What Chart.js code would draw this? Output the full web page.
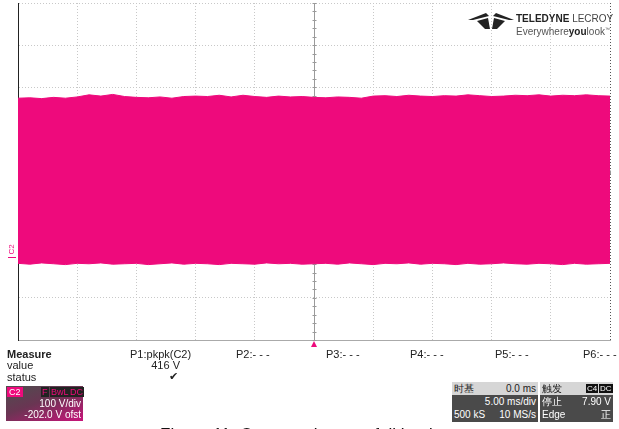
<!DOCTYPE html>
<html>
<head>
<meta charset="utf-8">
<script src="https://cdn.jsdelivr.net/npm/chart.js@4"></script>
<style>
  body { margin: 0; background: #fff; font-family: "Liberation Sans", Arial, sans-serif; }
  #wrap { position: relative; width: 619px; height: 429px; overflow: hidden; }
  .t { position: absolute; font-size: 11px; line-height: 11px; color: #222; white-space: nowrap; }
  .box { position: absolute; font-size: 10px; line-height: 13px; color: #fff; }
  .row { position: relative; height: 13px; }
  .row span { position: absolute; }
</style>
</head>
<body>
<div id="wrap">
  <canvas id="scopeChart" width="619" height="429"></canvas>

  <!-- logo -->
  <svg style="position:absolute;left:467px;top:12px" width="48" height="18">
    <polygon points="1,8 19,1 22,4 6,8" fill="#222"/>
    <polygon points="47,8 29,1 26,4 42,8" fill="#222"/>
    <polygon points="10,9 21,6 23,17 18,17" fill="#222"/>
    <polygon points="38,9 27,6 25,17 30,17" fill="#222"/>
  </svg>
  <div class="t" style="left:516px;top:14px;font-size:10px;line-height:10px;color:#222"><b>TELEDYNE</b> <span style="color:#444">LECROY</span></div>
  <div class="t" style="left:516px;top:24px;font-size:10px;line-height:10px;color:#555">Everywhere<b style="color:#222">you</b>look<sup style="font-size:5px">™</sup></div>

  <!-- measure table -->
  <div class="t" style="left:7px;top:349px"><b>Measure</b></div>
  <div class="t" style="left:7px;top:360px">value</div>
  <div class="t" style="left:7px;top:372px">status</div>
  <div class="t" style="left:130px;top:349px">P1:pkpk(C2)</div>
  <div class="t" style="left:150px;top:360px;width:30px;text-align:right">416 V</div>
  <div class="t" style="left:169px;top:371px">✔</div>
  <div class="t" style="left:236px;top:349px">P2:- - -</div>
  <div class="t" style="left:326px;top:349px">P3:- - -</div>
  <div class="t" style="left:410px;top:349px">P4:- - -</div>
  <div class="t" style="left:495px;top:349px">P5:- - -</div>
  <div class="t" style="left:583px;top:349px">P6:- - -</div>

  <!-- channel box -->
  <div class="box" style="left:6px;top:386px;width:77px;height:35px;background:linear-gradient(160deg,#4e4e4e 0%,#6a3553 45%,#c8147a 100%)">
    <div class="row" style="height:12px">
      <span style="left:1px;top:1px;background:#ee0a7c;padding:0 2px;line-height:10px;font-size:9px">C2</span>
      <span style="left:35px;top:1px;background:#222;color:#ee0a7c;padding:0 1px;line-height:10px;font-size:9px">F</span>
      <span style="left:44px;top:1px;background:#222;color:#ee0a7c;padding:0 1px;line-height:10px;font-size:9px">BwL</span>
      <span style="left:63px;top:1px;background:#222;color:#ee0a7c;padding:0 1px;line-height:10px;font-size:9px">DC</span>
    </div>
    <div class="row" style="height:11px"><span style="right:2px;line-height:11px">100 V/div</span></div>
    <div class="row" style="height:12px"><span style="right:2px;line-height:12px">-202.0 V ofst</span></div>
  </div>

  <!-- timebase box -->
  <div class="box" style="left:452px;top:382px;width:86px;height:40px;background:#4a4a4a">
    <div class="row" style="background:#d6d6d6;color:#222"><span style="left:2px">时基</span><span style="right:2px">0.0 ms</span></div>
    <div class="row"><span style="right:2px">5.00 ms/div</span></div>
    <div class="row"><span style="left:2px">500 kS</span><span style="right:2px">10 MS/s</span></div>
  </div>

  <!-- trigger box -->
  <div class="box" style="left:540px;top:382px;width:73px;height:40px;background:#4a4a4a">
    <div class="row" style="background:#d6d6d6;color:#222">
      <span style="left:2px">触发</span>
      <span style="left:46px;top:2px;background:#111;color:#fff;line-height:9px;font-size:8px;padding:0 1px">C4</span>
      <span style="left:59px;top:2px;background:#111;color:#fff;line-height:9px;font-size:8px;padding:0 1px">DC</span>
    </div>
    <div class="row"><span style="left:2px">停止</span><span style="right:2px">7.90 V</span></div>
    <div class="row"><span style="left:2px">Edge</span><span style="right:2px">正</span></div>
  </div>

  <!-- caption, only the top of it is in the picture -->
  <div class="t" style="left:160px;top:426px;font-size:17px;line-height:17px;color:#111">Figure 11. Output voltage at full load</div>
</div>

<script>
// temps en ms (centre = declenchement)
const temps = [-25, -24, -23, -22, -21, -20, -19, -18, -17, -16, -15, -14, -13, -12, -11, -10, -9, -8, -7, -6, -5, -4, -3, -2, -1,
    0, 1, 2, 3, 4, 5, 6, 7, 8, 9, 10, 11, 12, 13, 14, 15, 16, 17, 18, 19, 20, 21, 22, 23, 24, 25];
// enveloppe haute de C2 (V)
const enveloppeHaute = [376, 377, 375, 378, 376, 379, 384, 381, 385, 380, 378, 377, 379, 376, 380, 381, 380, 383, 379, 383, 380, 378, 381, 379, 380,
    378, 377, 379, 378, 376, 381, 382, 380, 383, 381, 380, 382, 381, 384, 382, 380, 381, 383, 382, 384, 381, 383, 382, 384, 382, 381];
// enveloppe basse de C2 (V)
const enveloppeBasse = [-16, -18, -15, -17, -19, -16, -17, -15, -18, -17, -16, -19, -17, -15, -18, -16, -17, -19, -16, -17, -18, -15, -17, -16, -18,
    -17, -16, -18, -15, -17, -19, -16, -17, -15, -18, -16, -17, -19, -16, -18, -17, -15, -17, -18, -16, -17, -19, -16, -18, -17, -16];
// reglages de l'ecran
const voltsParDiv = 100;
const offsetVolts = 202;   // -202.0 V ofst => centre a +202 V
const divisionsY = 8;
const niveauC2 = 0;

const rose = '#ee0a7c';
const yMin = offsetVolts - voltsParDiv * divisionsY / 2;
const yMax = offsetVolts + voltsParDiv * divisionsY / 2;

// petites graduations sur les axes centraux (sous la trace) + marqueurs
const reticule = {
    id: 'reticule',
    beforeDatasetsDraw(chart) {
        const ctx = chart.ctx;
        const xs = chart.scales.x, ys = chart.scales.y;
        const cx = Math.round(xs.getPixelForValue(0)) + 0.5;
        const cy = Math.round(ys.getPixelForValue(offsetVolts)) + 0.5;
        ctx.save();
        ctx.strokeStyle = '#9a9a9a';
        ctx.lineWidth = 1;
        ctx.beginPath(); ctx.moveTo(chart.chartArea.left, cy); ctx.lineTo(chart.chartArea.right, cy); ctx.stroke();
        ctx.beginPath(); ctx.moveTo(cx, chart.chartArea.top); ctx.lineTo(cx, chart.chartArea.bottom); ctx.stroke();
        for (let t = -25; t <= 25; t += 1) {
            const px = Math.round(xs.getPixelForValue(t)) + 0.5;
            ctx.beginPath(); ctx.moveTo(px, cy - 2); ctx.lineTo(px, cy + 2); ctx.stroke();
        }
        for (let v = yMin; v <= yMax; v += 20) {
            const py = Math.round(ys.getPixelForValue(v)) + 0.5;
            ctx.beginPath(); ctx.moveTo(cx - 2, py); ctx.lineTo(cx + 2, py); ctx.stroke();
        }
        ctx.restore();
    },
    afterDraw(chart) {
        const ctx = chart.ctx;
        const xs = chart.scales.x, ys = chart.scales.y;
        const cx = xs.getPixelForValue(0);
        const bas = chart.chartArea.bottom;
        ctx.save();
        // marqueur de declenchement
        ctx.fillStyle = rose;
        ctx.beginPath();
        ctx.moveTo(cx, bas + 1); ctx.lineTo(cx - 3, bas + 7); ctx.lineTo(cx + 3, bas + 7);
        ctx.closePath(); ctx.fill();
        // marqueur de niveau C2
        const gy = ys.getPixelForValue(niveauC2);
        ctx.strokeStyle = rose;
        ctx.beginPath(); ctx.moveTo(8, Math.round(gy) + 0.5); ctx.lineTo(16, Math.round(gy) + 0.5); ctx.stroke();
        ctx.font = '8px "Liberation Sans"';
        ctx.translate(14, gy - 2);
        ctx.rotate(-Math.PI / 2);
        ctx.fillText('C2', 0, 0);
        ctx.restore();
    }
};

const ctx = document.getElementById('scopeChart').getContext('2d');
new Chart(ctx, {
    type: 'line',
    data: {
        labels: temps,
        datasets: [{
            data: temps.map((t, i) => ({ x: t, y: enveloppeHaute[i] })),
            borderColor: rose,
            backgroundColor: rose,
            borderWidth: 1,
            pointRadius: 0,
            tension: 0,
            fill: '+1'
        }, {
            data: temps.map((t, i) => ({ x: t, y: enveloppeBasse[i] })),
            borderColor: rose,
            backgroundColor: rose,
            borderWidth: 1,
            pointRadius: 0,
            tension: 0,
            fill: false
        }]
    },
    options: {
        responsive: false,
        animation: false,
        layout: { padding: { left: 18, right: 9, top: 3, bottom: 89 } },
        plugins: { legend: { display: false }, tooltip: { enabled: false } },
        scales: {
            x: {
                type: 'linear',
                min: -25,
                max: 25,
                ticks: { display: false, stepSize: 5 },
                grid: {
                    drawTicks: false,
                    color: ctx => ctx.tick && ctx.tick.value === 25 ? '#555' : '#c8c8c8'
                },
                border: { display: true, color: '#aaa', dash: [1, 2] }
            },
            y: {
                min: yMin,
                max: yMax,
                afterBuildTicks: axis => {
                    axis.ticks = [];
                    for (let v = yMin; v <= yMax; v += voltsParDiv) axis.ticks.push({ value: v });
                },
                ticks: { display: false },
                grid: {
                    drawTicks: false,
                    color: '#c8c8c8'
                },
                border: { display: true, color: '#222', dash: [1, 2] }
            }
        }
    },
    plugins: [reticule]
});
</script>
</body>
</html>
